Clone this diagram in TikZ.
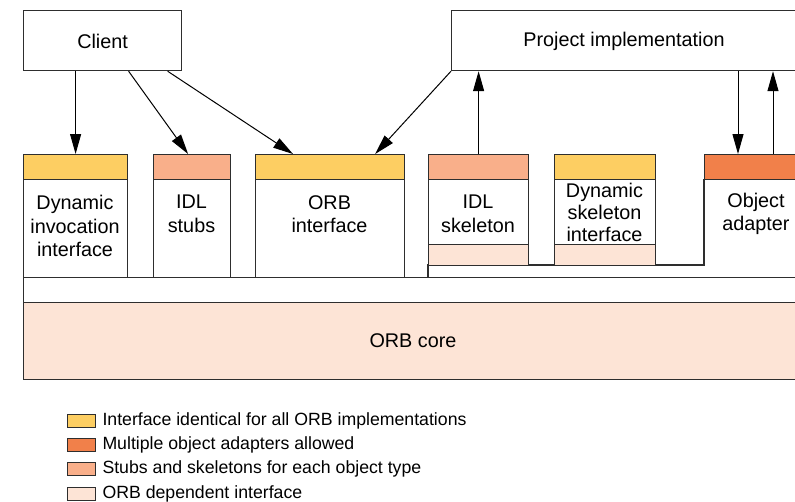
\documentclass[tikz,border=0pt]{standalone}
\usepackage{fontspec}
\setmainfont{Liberation Sans}
\usetikzlibrary{arrows.meta, positioning}
\definecolor{ifyellow}{HTML}{FDCE62}
\definecolor{stubsalmon}{HTML}{F9AF8A}
\definecolor{adaptorange}{HTML}{F1804A}
\definecolor{orbpeach}{HTML}{FDE4D6}
\definecolor{edgegray}{HTML}{2E2E2E}

\begin{document}
\begin{tikzpicture}[x=1pt,y=-1pt,>={Triangle[length=20pt,width=11pt]},
    box/.style={draw=edgegray,line width=1.2pt,inner sep=0pt,anchor=north west},
    lbl/.style={align=center,font=\fontsize{19.8}{23.5}\selectfont},
    keybox/.style={draw=edgegray,line width=1.3pt,inner sep=0pt,anchor=north west,minimum width=28pt,minimum height=13pt},
    keytxt/.style={anchor=west,inner sep=0pt,font=\fontsize{17.7}{20}\selectfont}]
  \useasboundingbox (0,0) rectangle (795,501);

  % top boxes
  \node[box,minimum width=158pt,minimum height=60pt] (client) at (23,10) {};
  \node[lbl] at ([yshift=-1pt]client.center) {Client};
  \node[box,minimum width=360pt,minimum height=60pt] (impl) at (451,10) {};
  \node[lbl] at (624,41) {Project implementation};

  % ORB core and band
  \node[box,fill=orbpeach,minimum width=790pt,minimum height=77pt] (core) at (23,302) {};
  \node[lbl] at (413,341) {ORB core};
  \node[box,minimum width=790pt,minimum height=25pt] (band) at (23,277) {};

  % client side
  \node[box,minimum width=104pt,minimum height=98pt] (dii) at (23,179) {};
  \node[box,fill=ifyellow,minimum width=104pt,minimum height=25pt] (diihd) at (23,154) {};
  \node[lbl] at (75,226) {Dynamic\\invocation\\interface};
  \node[box,minimum width=77pt,minimum height=98pt] (stubs) at (153,179) {};
  \node[box,fill=stubsalmon,minimum width=77pt,minimum height=25pt] (stubshd) at (153,154) {};
  \node[lbl] at (191.5,214) {IDL\\stubs};
  \node[box,minimum width=149pt,minimum height=98pt] (orbif) at (255,179) {};
  \node[box,fill=ifyellow,minimum width=149pt,minimum height=25pt] (orbhd) at (255,154) {};
  \node[lbl] at (329.5,214) {ORB\\interface};

  % implementation side
  \draw[edgegray,line width=1.2pt] (428,277) -- (428,265) -- (704,265) -- (704,179);
  \node[box,minimum width=100pt,minimum height=65pt] (skel) at (428,179) {};
  \node[box,fill=stubsalmon,minimum width=100pt,minimum height=25pt] (skelhd) at (428,154) {};
  \node[box,fill=orbpeach,minimum width=100pt,minimum height=21pt] (skeldep) at (428,244) {};
  \node[lbl] at (478,214) {IDL\\skeleton};
  \node[box,minimum width=101pt,minimum height=65pt] (dsi) at (554,179) {};
  \node[box,fill=ifyellow,minimum width=101pt,minimum height=25pt] (dsihd) at (554,154) {};
  \node[box,fill=orbpeach,minimum width=101pt,minimum height=21pt] (dsidep) at (554,244) {};
  \node[lbl,font=\fontsize{19.8}{22}\selectfont] at (604.5,212) {Dynamic\\skeleton\\interface};
  \node[box,fill=adaptorange,minimum width=100pt,minimum height=25pt] (oahd) at (704,154) {};
  \node[lbl] at (756,214) {Object\\adapter};

  % arrows
  \draw[->,line width=1pt] (client.south -| diihd.north) -- (diihd.north);
  \draw[->,line width=1pt] ([xshift=26pt]client.south) -- ([xshift=-4pt]stubshd.north);
  \draw[->,line width=1pt] ([xshift=65pt]client.south) -- ([xshift=38pt]orbhd.north west);
  \draw[->,line width=1pt] (impl.south west) -- ([xshift=-30pt]orbhd.north east);
  \draw[->,line width=1pt] (skelhd.north) -- (skelhd.north |- impl.south);
  \draw[->,line width=1pt] (impl.south -| 738,0) -- ([xshift=34pt]oahd.north west);
  \draw[->,line width=1pt] ([xshift=69pt]oahd.north west) -- (impl.south -| 773,0);

  % legend
  \node[keybox,fill=ifyellow] (key1) at (67,414) {};
  \node[keytxt,right=6pt of key1] {Interface identical for all ORB implementations};
  \node[keybox,fill=adaptorange] (key2) at (67,438) {};
  \node[keytxt,right=6pt of key2] {Multiple object adapters allowed};
  \node[keybox,fill=stubsalmon] (key3) at (67,462) {};
  \node[keytxt,right=6pt of key3] {Stubs and skeletons for each object type};
  \node[keybox,fill=orbpeach] (key4) at (67,486.5) {};
  \node[keytxt,right=6pt of key4] {ORB dependent interface};
\end{tikzpicture}
\end{document}
